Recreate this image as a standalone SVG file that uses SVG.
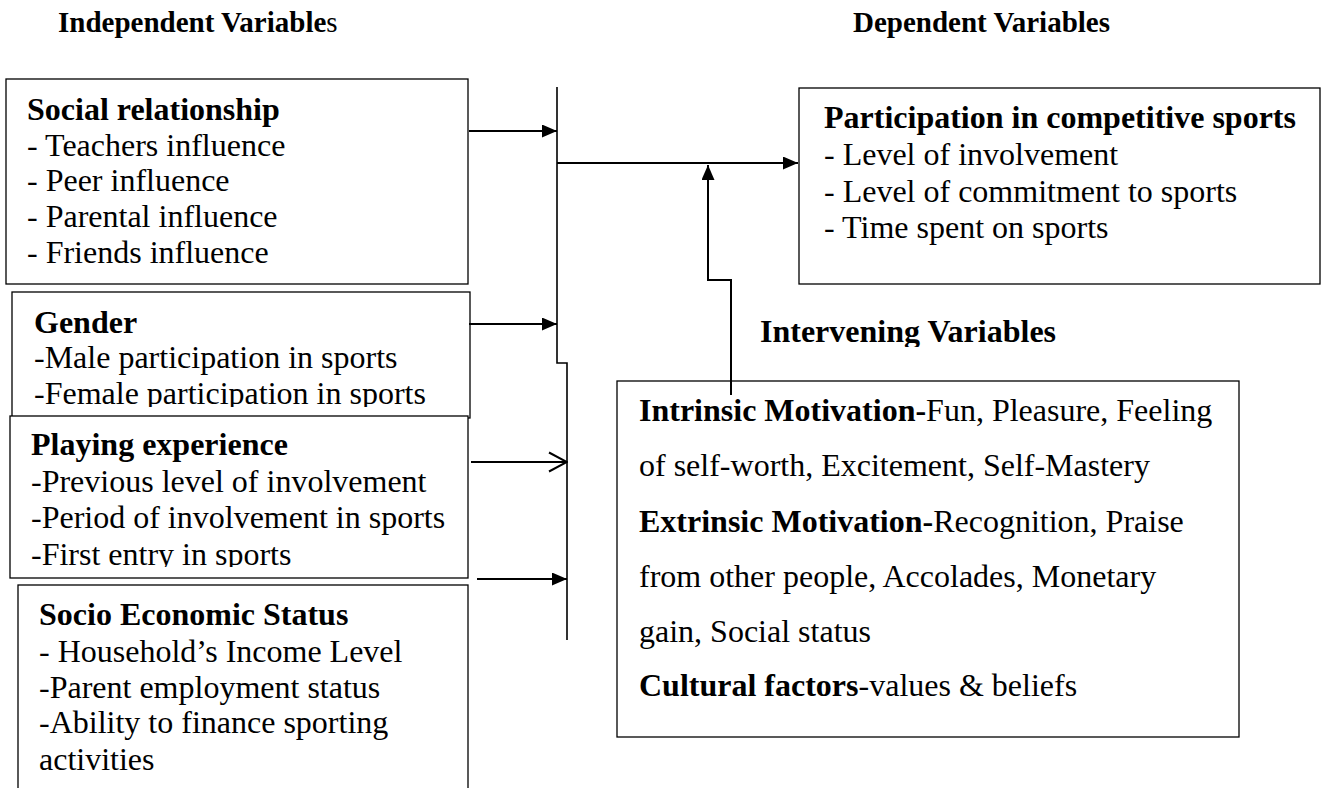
<svg xmlns="http://www.w3.org/2000/svg" width="1323" height="788" viewBox="0 0 1323 788">
<style>
text{font-family:"Liberation Serif","Times New Roman",serif;font-size:32px;fill:#000}
.b{font-weight:bold}
.t{font-size:29px;font-weight:bold}
.box{fill:#fff;stroke:#000;stroke-width:1.3}
.ln{fill:none;stroke:#000;stroke-width:2}
.vl{fill:none;stroke:#000;stroke-width:1.6}
</style>
<defs>
<marker id="ah" viewBox="0 0 15 13" refX="15" refY="6.5" markerWidth="15" markerHeight="13" markerUnits="userSpaceOnUse" orient="auto">
<path d="M0,0 L15,6.5 L0,13 Z" fill="#000"/>
</marker>
<marker id="oh" viewBox="0 0 20 22" refX="19" refY="11" markerWidth="20" markerHeight="22" markerUnits="userSpaceOnUse" orient="auto">
<path d="M1,1.5 L19,11 L1,20.5" fill="none" stroke="#000" stroke-width="2"/>
</marker>
<clipPath id="cg"><rect x="0" y="290" width="480" height="117"/></clipPath>
<clipPath id="cp"><rect x="0" y="415" width="480" height="152"/></clipPath>
<clipPath id="ci"><rect x="700" y="300" width="450" height="47"/></clipPath>
</defs>

<g id="titles">
<text x="58" y="32" class="t">Independent Variable<tspan font-weight="normal">s</tspan></text>
<text x="1110" y="32" class="t" text-anchor="end">Dependent Variables</text>
</g>

<g id="social">
<rect class="box" x="6" y="79" width="462" height="205"/>
<text x="27" y="120" class="b">Social relationship</text>
<text x="27" y="156">- Teachers influence</text>
<text x="27" y="191">- Peer influence</text>
<text x="27" y="227">- Parental influence</text>
<text x="27" y="263">- Friends influence</text>
</g>

<g id="gender">
<rect class="box" x="12" y="292" width="458" height="126"/>
<g clip-path="url(#cg)">
<text x="34" y="333" class="b">Gender</text>
<text x="34" y="368">-Male participation in sports</text>
<text x="34" y="404">-Female participation in sports</text>
</g>
</g>

<g id="playing">
<rect class="box" x="10" y="416" width="458" height="162"/>
<g clip-path="url(#cp)">
<text x="31" y="455" class="b">Playing experience</text>
<text x="31" y="492">-Previous level of involvement</text>
<text x="31" y="528">-Period of involvement in sports</text>
<text x="31" y="565">-First entry in sports</text>
</g>
</g>

<g id="socio">
<rect class="box" x="18" y="585" width="450" height="230"/>
<text x="39" y="625" class="b">Socio Economic Status</text>
<text x="39" y="662">- Household’s Income Level</text>
<text x="39" y="698">-Parent employment status</text>
<text x="39" y="733">-Ability to finance sporting</text>
<text x="39" y="770">activities</text>
</g>

<g id="participation">
<rect class="box" x="799" y="88" width="521" height="196"/>
<text x="824" y="128" class="b">Participation in competitive sports</text>
<text x="824" y="165">- Level of involvement</text>
<text x="824" y="202">- Level of commitment to sports</text>
<text x="824" y="238">- Time spent on sports</text>
</g>

<g id="intervening-title">
<text x="760" y="342" class="b" font-size="31" clip-path="url(#ci)">Intervening Variables</text>
</g>

<g id="intervening">
<rect class="box" x="617" y="381" width="622" height="356"/>
<text x="639" y="421"><tspan class="b">Intrinsic Motivation-</tspan>Fun, Pleasure, Feeling</text>
<text x="639" y="476">of self-worth, Excitement, Self-Mastery</text>
<text x="639" y="532"><tspan class="b">Extrinsic Motivation-</tspan>Recognition, Praise</text>
<text x="639" y="587">from other people, Accolades, Monetary</text>
<text x="639" y="642">gain, Social status</text>
<text x="639" y="696"><tspan class="b">Cultural factors</tspan>-values &amp; beliefs</text>
</g>

<g id="connectors">
<path class="vl" d="M557,87 V363 H567 V640"/>
<line class="ln" x1="469" y1="131" x2="557" y2="131" marker-end="url(#ah)"/>
<line class="ln" x1="469" y1="324" x2="557" y2="324" marker-end="url(#ah)"/>
<line class="ln" x1="471" y1="462" x2="567" y2="462" marker-end="url(#oh)"/>
<line class="ln" x1="477" y1="579" x2="567" y2="579" marker-end="url(#ah)"/>
<line class="ln" x1="557" y1="163" x2="798" y2="163" marker-end="url(#ah)"/>
<path class="ln" d="M731,395 V280 H708 V165" marker-end="url(#ah)"/>
</g>
</svg>
